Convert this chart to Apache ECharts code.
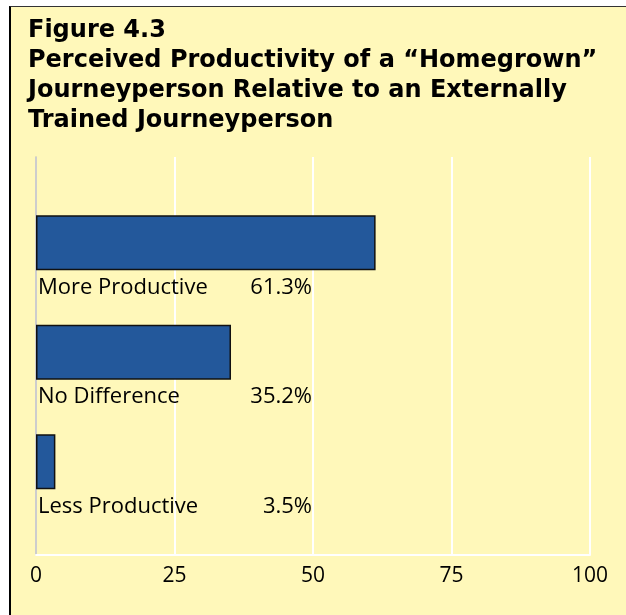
<!DOCTYPE html>
<html>
<head>
<meta charset="utf-8">
<script src="https://cdn.jsdelivr.net/npm/echarts@6/dist/echarts.min.js"></script>
<style>
  html, body { margin: 0; padding: 0; background: #fff; overflow: hidden; }
  #box {
    position: absolute; left: 9px; top: 6px; width: 630px; height: 620px;
    box-sizing: border-box;
    background: #fff8ba;
    border-left: 2.5px solid #000;
    border-top: 1px solid #333;
  }
  #chart { position: absolute; left: 0; top: 0; width: 626px; height: 615px; }
</style>
</head>
<body>
<div id="box"></div>
<div id="chart"></div>
<script>
// data
const categories = ['More Productive', 'No Difference', 'Less Productive'];
const values = [61.3, 35.2, 3.5];
const xTicks = [0, 25, 50, 75, 100];

const titleText = 'Figure 4.3\nPerceived Productivity of a “Homegrown”\n' +
    'Journeyperson Relative to an Externally\nTrained Journeyperson';

let myChart = echarts.init(document.getElementById('chart'));

const font = "'Open Sans', 'Noto Sans', sans-serif";

myChart.setOption({
    backgroundColor: 'transparent',
    animation: false,
    title: {
        text: titleText,
        left: 28,
        top: 16,
        padding: 0,
        textStyle: {
            fontFamily: "'DejaVu Sans', sans-serif",
            fontSize: 24,
            fontWeight: 'bold',
            lineHeight: 30,
            color: '#000'
        }
    },
    grid: [
        { // gridlines + ticks
            left: 36, right: 36, top: 157, bottom: 60
        },
        { // bars
            left: 36, right: 36, top: 188, height: 328.5
        }
    ],
    xAxis: [
        {
            type: 'value',
            gridIndex: 0,
            min: xTicks[0],
            max: xTicks[xTicks.length - 1],
            interval: 25,
            axisLine: { show: true, lineStyle: { color: '#fff', width: 2 } },
            axisTick: { show: false },
            axisLabel: {
                margin: 11,
                fontFamily: font,
                fontSize: 21,
                color: '#000'
            },
            splitLine: { show: true, lineStyle: { color: '#fff', width: 2 } }
        },
        {
            type: 'value',
            gridIndex: 1,
            min: 0,
            max: 100,
            show: false
        }
    ],
    yAxis: [
        {
            type: 'category',
            gridIndex: 0,
            data: [],
            axisLine: { show: true, lineStyle: { color: '#bcbcbc', width: 1.5 } },
            axisTick: { show: false },
            axisLabel: { show: false },
            splitLine: { show: false }
        },
        {
            type: 'category',
            gridIndex: 1,
            data: categories,
            inverse: true,
            show: false
        }
    ],
    series: [
        {
            type: 'bar',
            xAxisIndex: 1,
            yAxisIndex: 1,
            barWidth: 55,
            data: values,
            itemStyle: {
                color: '#23589b',
                borderColor: '#111',
                borderWidth: 1.5
            },
            label: {
                show: true,
                position: [2, 72],
                align: 'left',
                verticalAlign: 'middle',
                formatter: function (p) {
                    return '{a|' + categories[p.dataIndex] + '}{b|' + values[p.dataIndex].toFixed(1) + '%}';
                },
                rich: {
                    a: { width: 205, align: 'left', fontFamily: font, fontSize: 22, color: '#000' },
                    b: { width: 69, align: 'right', fontFamily: font, fontSize: 22, color: '#000' }
                }
            }
        }
    ]
});
</script>
</body>
</html>
